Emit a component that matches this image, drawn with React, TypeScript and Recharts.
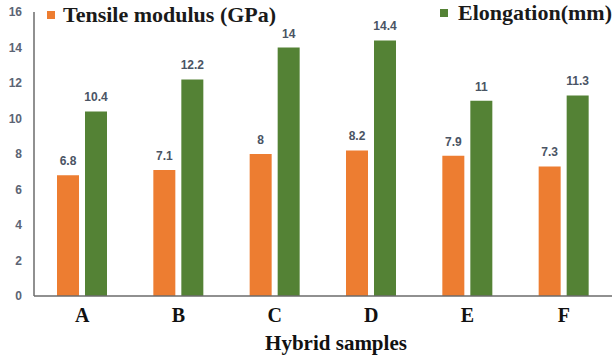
import React from "react";
import { Bar, BarChart, LabelList, XAxis, YAxis } from "recharts";

const samples = ["A", "B", "C", "D", "E", "F"];
const tensileModulus = [6.8, 7.1, 8, 8.2, 7.9, 7.3];
const elongation = [10.4, 12.2, 14, 14.4, 11, 11.3];
const yTicks = [0, 2, 4, 6, 8, 10, 12, 14, 16];

const ORANGE = "#ED7D31";
const GREEN = "#548235";
const serif = "'Liberation Serif', 'Times New Roman', serif";
const sans = "'Liberation Sans', Arial, sans-serif";

const chartData = samples.map((s, i) => ({
  name: s,
  tensile: tensileModulus[i],
  elongation: elongation[i]
}));

// legend sits over the plot, like the source figure
function LegendItem({
  color,
  text,
  left,
  top,
  gap
}: {
  color: string;
  text: string;
  left: number;
  top: number;
  gap: number;
}) {
  return (
    <div
      style={{
        position: "absolute",
        left,
        top,
        display: "flex",
        alignItems: "center",
        whiteSpace: "nowrap"
      }}
    >
      <span
        style={{
          width: 8,
          height: 8,
          background: color,
          display: "inline-block",
          marginRight: gap
        }}
      />
      <span
        style={{
          fontFamily: serif,
          fontWeight: "bold",
          fontSize: 22,
          lineHeight: "24px",
          color: "#1a1a1a"
        }}
      >
        {text}
      </span>
    </div>
  );
}

export default function App() {
  return (
    <div
      style={{
        position: "absolute",
        left: 0,
        top: 0,
        width: 612,
        height: 362,
        background: "#fff"
      }}
    >
      <BarChart
        width={612}
        height={362}
        data={chartData}
        margin={{ top: 12, right: 0, bottom: 0, left: 0 }}
        barSize={22}
        barGap={6}
      >
        <XAxis
          dataKey="name"
          tickLine={false}
          tickSize={0}
          tickMargin={12}
          height={66}
          axisLine={{ stroke: "#6b6b6b", strokeWidth: 1.5 }}
          tick={{
            fill: "#111",
            fontFamily: serif,
            fontWeight: "bold",
            fontSize: 20
          }}
          label={{
            value: "Hybrid samples",
            position: "insideBottom",
            offset: 12,
            dx: 13,
            fill: "#111",
            fontFamily: serif,
            fontWeight: "bold",
            fontSize: 21
          }}
        />
        <YAxis
          type="number"
          domain={[0, 16]}
          ticks={yTicks}
          width={34}
          tickLine={false}
          tickSize={0}
          tickMargin={12}
          axisLine={{ stroke: "#6b6b6b", strokeWidth: 1.5 }}
          tick={{
            fill: "#5b6474",
            fontFamily: sans,
            fontWeight: "bold",
            fontSize: 12
          }}
        />
        <Bar dataKey="tensile" fill={ORANGE} isAnimationActive={false}>
          <LabelList
            dataKey="tensile"
            position="top"
            offset={10}
            fill="#4a5464"
            fontFamily={sans}
            fontWeight="bold"
            fontSize={12}
          />
        </Bar>
        <Bar dataKey="elongation" fill={GREEN} isAnimationActive={false}>
          <LabelList
            dataKey="elongation"
            position="top"
            offset={10}
            fill="#4a5464"
            fontFamily={sans}
            fontWeight="bold"
            fontSize={12}
          />
        </Bar>
      </BarChart>
      <LegendItem color={ORANGE} text="Tensile modulus (GPa)" left={47} top={3} gap={8} />
      <LegendItem color={GREEN} text="Elongation(mm)" left={440} top={1} gap={10} />
    </div>
  );
}
